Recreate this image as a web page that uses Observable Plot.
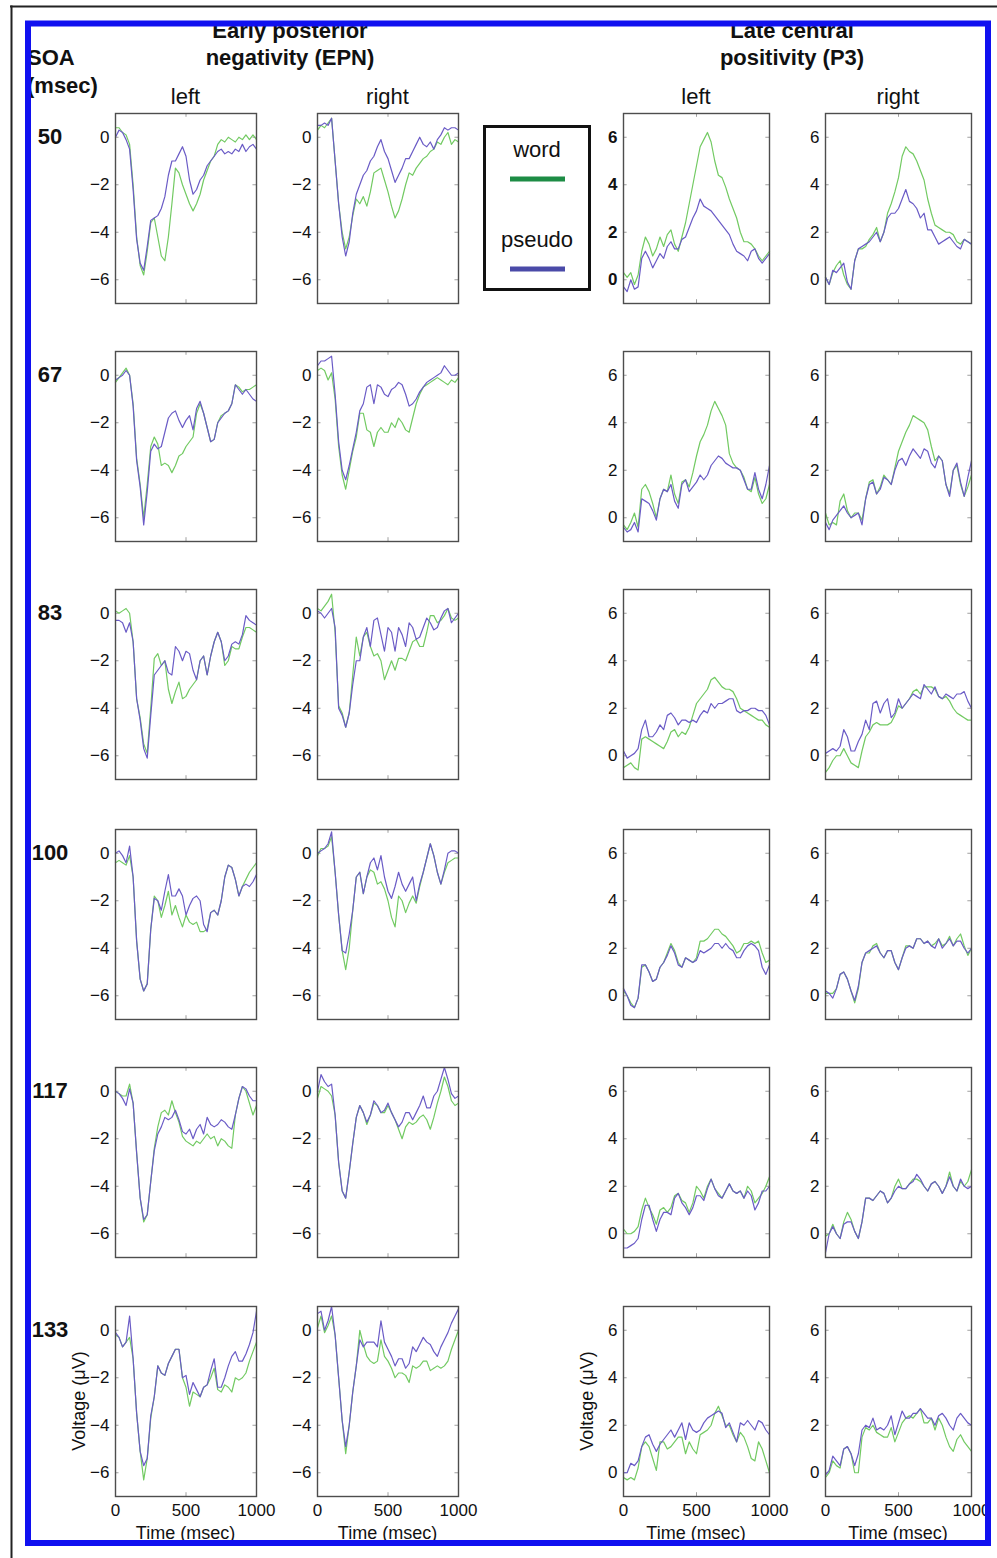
<!DOCTYPE html>
<html>
<head>
<meta charset="utf-8">
<script src="https://cdn.jsdelivr.net/npm/d3@7"></script>
<script src="https://cdn.jsdelivr.net/npm/@observablehq/plot@0.6"></script>
<style>
  html, body { margin: 0; padding: 0; background: #fff; }
  #fig { position: relative; width: 997px; height: 1558px; overflow: hidden; background: #fff; }
  .cell { position: absolute; }
  #overlay { position: absolute; left: 0; top: 0; pointer-events: none; }
</style>
</head>
<body>
<div id="fig"></div>
<script>
// ---------------- data ----------------
const times = [0,25,50,75,100,125,150,175,200,225,250,275,300,325,350,375,400,425,450,475,500,525,550,575,600,625,650,675,700,725,750,775,800,825,850,875,900,925,950,975,1000];
const soaLabels = ["50", "67", "83", "100", "117", "133"];
const componentTitles = [["Early posterior", "negativity (EPN)"], ["Late central", "positivity (P3)"]];
const hemiLabels = ["left", "right", "left", "right"];
const epnTicks = [-6, -4, -2, 0];
const p3Ticks = [0, 2, 4, 6];
const timeTicks = [0, 500, 1000];
const conditions = ["word", "pseudo"];

// SOA 50
const word_50_epnL   = [0.4,0.4,0.2,0.1,-0.3,-2.0,-4.2,-5.4,-5.8,-4.8,-3.6,-3.4,-4.2,-5.0,-5.2,-4.2,-2.8,-1.3,-1.5,-2.0,-2.4,-2.8,-3.1,-2.8,-2.4,-1.8,-1.4,-1.0,-0.8,-0.3,-0.1,-0.2,0.0,-0.1,-0.2,0.0,-0.1,0.1,-0.1,0.1,-0.1];
const pseudo_50_epnL = [0.0,0.3,0.2,-0.1,-0.5,-2.2,-4.3,-5.3,-5.6,-4.6,-3.5,-3.4,-3.3,-3.0,-2.5,-1.6,-1.0,-1.0,-0.7,-0.4,-0.8,-1.8,-2.4,-2.2,-1.8,-1.6,-1.2,-1.0,-0.8,-0.6,-0.5,-0.7,-0.6,-0.7,-0.5,-0.6,-0.3,-0.6,-0.4,-0.3,-0.5];
const word_50_epnR   = [0.3,0.5,0.4,0.6,0.8,-1.0,-2.8,-4.0,-4.7,-4.2,-3.3,-2.6,-2.8,-2.5,-2.9,-2.3,-1.5,-1.4,-1.3,-1.8,-2.3,-2.9,-3.4,-3.1,-2.6,-2.0,-1.5,-1.6,-1.3,-1.1,-0.9,-0.8,-0.6,-0.5,-0.2,-0.3,0.0,0.2,-0.3,-0.1,-0.2];
const pseudo_50_epnR = [0.5,0.5,0.6,0.5,0.8,-1.0,-2.8,-4.2,-5.0,-4.4,-3.2,-2.4,-2.0,-1.6,-1.4,-1.0,-0.8,-0.4,-0.1,-0.6,-0.9,-1.4,-1.9,-1.6,-1.3,-0.9,-0.9,-0.6,-0.3,0.0,-0.3,-0.4,-0.2,-0.5,-0.1,0.1,0.4,0.3,0.4,0.4,0.3];
const word_50_p3L    = [0.3,0.1,0.3,-0.2,0.2,1.2,1.8,1.5,1.0,1.3,1.8,1.4,1.9,2.1,1.5,1.2,1.8,2.4,3.2,4.0,4.8,5.6,5.9,6.2,5.8,5.0,4.4,4.3,3.9,3.4,3.0,2.6,2.0,1.6,1.6,1.5,1.3,1.0,0.8,1.0,1.2];
const pseudo_50_p3L  = [-0.3,-0.5,0.0,-0.4,-0.3,0.9,1.2,0.9,0.5,0.8,1.1,0.9,1.4,1.6,1.3,1.3,1.7,1.8,2.2,2.6,2.9,3.4,3.1,3.0,2.9,2.7,2.5,2.3,2.1,1.9,1.5,1.2,1.1,1.0,0.8,1.2,1.3,0.9,0.7,0.9,1.1];
const word_50_p3R    = [0.1,-0.2,0.3,0.6,0.8,0.2,-0.2,-0.4,0.8,1.3,1.3,1.4,1.7,1.9,2.2,1.6,2.0,2.8,3.2,3.7,4.3,5.2,5.6,5.4,5.3,5.0,4.6,4.2,3.4,2.8,2.3,2.2,2.1,2.0,2.0,1.9,1.6,1.5,1.7,1.6,1.5];
const pseudo_50_p3R  = [0.1,-0.2,0.4,0.3,0.5,0.7,-0.1,-0.4,0.8,1.3,1.4,1.5,1.6,1.8,2.0,1.6,2.0,2.6,2.8,2.8,3.0,3.4,3.8,3.3,3.2,3.0,2.6,2.8,2.1,2.1,1.8,1.5,1.6,1.7,1.8,1.6,1.4,1.3,1.7,1.6,1.5];
// SOA 67
const word_67_epnL   = [-0.3,-0.1,0.1,0.3,0.0,-1.2,-3.5,-4.6,-6.0,-4.6,-3.0,-2.6,-2.9,-3.8,-3.7,-3.8,-4.1,-3.8,-3.4,-3.3,-3.0,-2.8,-2.6,-1.6,-1.2,-1.6,-2.2,-2.8,-2.7,-2.0,-1.7,-1.6,-1.5,-1.2,-0.4,-0.5,-0.7,-0.6,-0.6,-0.5,-0.4];
const pseudo_67_epnL = [-0.2,-0.1,0.0,0.2,0.0,-1.3,-3.6,-4.7,-6.3,-4.9,-3.2,-2.9,-3.1,-3.0,-2.4,-1.8,-1.6,-1.5,-1.9,-2.2,-1.9,-1.7,-2.3,-1.4,-1.1,-1.6,-2.2,-2.8,-2.7,-2.0,-1.8,-1.6,-1.5,-1.2,-0.4,-0.6,-0.8,-0.6,-0.8,-1.0,-1.1];
const word_67_epnR   = [0.2,0.3,0.2,-0.2,0.1,-1.0,-3.0,-4.2,-4.8,-4.0,-3.2,-2.6,-1.6,-1.6,-2.3,-2.4,-3.0,-2.4,-2.2,-2.4,-2.4,-2.0,-2.2,-1.8,-2.0,-2.3,-2.4,-1.8,-1.2,-0.8,-0.5,-0.4,-0.3,-0.2,-0.1,-0.2,-0.3,-0.4,-0.2,-0.3,-0.1];
const pseudo_67_epnR = [0.4,0.6,0.6,0.7,0.8,-0.8,-2.8,-4.0,-4.4,-3.8,-3.1,-2.4,-1.5,-1.2,-0.5,-0.4,-1.2,-0.4,-0.5,-0.8,-0.9,-0.6,-0.5,-0.3,-0.4,-0.8,-1.3,-1.2,-1.0,-0.7,-0.5,-0.3,-0.2,-0.1,0.0,0.1,0.4,0.2,0.0,0.0,0.1];
const word_67_p3L    = [-0.3,-0.5,-0.2,0.2,-0.4,1.2,1.4,1.1,0.6,0.0,0.8,1.2,1.1,1.8,1.0,0.6,1.5,1.6,1.3,1.9,2.6,3.2,3.5,3.9,4.5,4.9,4.6,4.3,3.9,2.7,2.3,2.1,2.0,1.7,1.2,1.1,1.7,1.0,0.6,0.8,1.4];
const pseudo_67_p3L  = [-0.4,-0.6,-0.5,-0.2,-0.6,0.8,0.7,0.6,0.3,-0.1,0.8,1.2,1.1,1.4,0.7,0.4,1.4,1.6,1.1,1.3,1.5,1.8,1.6,1.8,2.2,2.4,2.6,2.5,2.3,2.2,2.1,2.1,2.0,1.6,1.2,1.2,1.9,1.2,0.8,1.4,2.2];
const word_67_p3R    = [0.2,-0.3,-0.2,-0.3,0.7,1.0,0.3,0.0,0.2,0.2,-0.1,0.8,1.5,1.6,1.0,1.3,1.8,1.6,1.4,2.1,2.8,3.2,3.6,3.9,4.3,4.2,4.1,4.0,3.7,3.0,2.4,2.6,2.4,1.4,1.0,2.0,2.2,1.4,0.9,1.3,1.8];
const pseudo_67_p3R  = [-0.2,-0.5,-0.1,0.1,0.3,0.5,0.2,0.0,0.1,0.2,-0.3,0.8,1.4,1.5,1.0,1.2,1.7,1.6,1.4,2.0,2.4,2.5,2.2,2.6,2.9,2.7,2.5,2.9,2.8,2.3,2.1,2.6,2.4,1.4,0.9,2.0,2.3,1.5,0.9,1.7,2.4];
// SOA 83
const word_83_epnL   = [0.1,0.0,0.1,0.2,0.0,-1.2,-3.6,-4.4,-5.5,-5.9,-4.0,-1.9,-1.7,-2.2,-2.0,-3.2,-3.8,-3.3,-2.9,-3.6,-3.5,-3.2,-3.0,-2.8,-2.0,-1.8,-2.6,-1.8,-1.2,-0.8,-1.2,-2.2,-2.0,-1.4,-1.5,-1.5,-1.0,-0.6,-0.6,-0.7,-0.8];
const pseudo_83_epnL = [-0.3,-0.3,-0.4,-0.8,-0.4,-1.2,-3.6,-4.5,-5.7,-6.1,-4.3,-2.6,-2.4,-2.2,-2.0,-2.5,-2.6,-1.4,-1.6,-2.0,-1.6,-1.7,-2.4,-2.8,-2.0,-1.8,-2.6,-1.8,-1.2,-0.8,-1.2,-2.0,-1.8,-1.3,-1.2,-1.3,-0.9,-0.1,-0.3,-0.4,-0.5];
const word_83_epnR   = [0.2,0.1,0.3,0.5,0.8,-0.8,-3.9,-4.2,-4.8,-4.2,-2.6,-1.0,-1.8,-1.0,-0.8,-1.4,-1.8,-1.7,-2.0,-2.8,-2.4,-2.0,-2.4,-1.9,-1.9,-2.0,-1.6,-1.2,-1.1,-1.4,-1.4,-0.8,-0.1,-0.1,-0.4,-0.3,-0.1,0.2,-0.2,-0.3,-0.2];
const pseudo_83_epnR = [0.1,0.0,-0.2,0.0,0.2,-0.6,-4.0,-4.3,-4.8,-4.2,-3.0,-2.0,-2.0,-1.0,-0.6,-1.4,-0.3,-0.2,-0.9,-1.6,-0.6,-0.8,-1.6,-0.6,-0.9,-1.4,-0.4,-0.6,-1.1,-1.0,-0.6,-0.2,-0.4,-0.7,-0.6,-0.2,0.1,0.2,-0.4,-0.2,0.0];
const word_83_p3L    = [-0.5,-0.4,-0.3,-0.5,-0.6,0.7,0.8,0.7,0.6,0.5,0.4,0.3,0.6,1.0,1.1,0.8,1.0,0.9,1.2,1.7,2.2,2.4,2.6,2.8,3.2,3.3,3.1,2.9,2.8,2.8,2.7,2.4,2.0,1.9,1.8,1.7,1.6,1.5,1.5,1.3,1.2];
const pseudo_83_p3L  = [0.2,-0.1,0.0,0.1,0.3,1.1,1.5,0.8,0.8,1.0,1.3,1.1,1.7,1.8,1.6,1.3,1.5,1.5,1.4,1.5,1.4,1.7,1.9,1.8,2.2,2.0,2.2,2.2,2.3,2.4,2.4,1.9,1.8,1.9,1.9,2.0,2.0,1.9,1.9,1.7,1.3];
const word_83_p3R    = [-0.7,-0.5,-0.2,0.0,0.0,0.3,0.0,-0.3,-0.4,-0.5,0.2,0.8,1.0,1.3,1.4,1.3,1.3,1.3,1.4,1.7,2.1,2.0,2.2,2.4,2.7,2.8,2.6,2.9,2.9,2.9,2.8,2.5,2.4,2.5,2.3,2.0,1.8,1.7,1.6,1.5,1.5];
const pseudo_83_p3R  = [0.1,0.2,0.3,0.2,0.4,1.1,0.8,0.2,0.2,0.6,0.9,1.5,1.1,2.2,2.3,1.8,2.2,2.4,1.6,1.8,2.4,2.0,2.2,2.4,2.6,2.5,2.4,3.0,2.8,2.6,2.9,2.5,2.4,2.6,2.5,2.4,2.6,2.6,2.7,2.3,2.0];
// SOA 100
const word_100_epnL   = [-0.4,-0.3,-0.4,-0.5,-0.1,-1.0,-3.7,-5.3,-5.8,-5.5,-3.2,-1.8,-2.0,-2.7,-2.2,-1.6,-2.6,-2.2,-2.7,-3.1,-2.6,-2.9,-3.0,-2.9,-3.3,-3.3,-3.2,-2.5,-2.4,-2.6,-2.0,-1.0,-0.5,-0.6,-1.1,-1.8,-1.4,-1.1,-0.8,-0.6,-0.4];
const pseudo_100_epnL = [0.0,0.1,-0.1,-0.4,0.3,-1.0,-3.7,-5.3,-5.8,-5.5,-3.2,-1.9,-2.0,-2.4,-1.6,-0.9,-1.8,-1.8,-1.5,-1.8,-2.6,-2.2,-1.9,-1.8,-2.0,-3.0,-3.3,-2.5,-2.4,-2.6,-2.0,-1.0,-0.5,-0.6,-1.1,-1.8,-1.4,-1.3,-1.4,-1.2,-0.9];
const word_100_epnR   = [-0.1,0.2,0.2,0.3,0.7,-0.8,-2.6,-4.1,-4.9,-4.0,-2.4,-1.0,-0.8,-1.7,-1.0,-0.7,-0.8,-1.3,-1.2,-1.5,-2.0,-2.7,-3.1,-1.8,-2.0,-2.5,-2.1,-1.8,-2.1,-1.4,-0.8,-0.2,0.4,-0.1,-0.8,-1.3,-0.8,-0.4,-0.3,-0.2,-0.2];
const pseudo_100_epnR = [0.0,0.1,0.2,0.4,0.9,-0.8,-2.6,-4.1,-4.2,-3.4,-2.4,-1.0,-0.8,-1.7,-1.0,-0.4,-0.2,-0.7,-0.1,-1.0,-1.6,-1.9,-1.4,-0.8,-1.3,-1.6,-1.3,-1.0,-2.0,-1.3,-0.8,-0.2,0.4,-0.1,-0.8,-1.3,-0.7,0.0,0.1,0.1,0.0];
const word_100_p3L    = [0.2,0.0,-0.3,-0.5,-0.1,1.2,1.3,1.0,0.6,0.7,1.2,1.4,1.8,2.2,1.9,1.4,1.2,1.6,1.5,1.4,1.6,2.3,2.3,2.4,2.6,2.8,2.8,2.6,2.5,2.3,2.1,1.8,1.9,2.2,2.2,2.3,2.2,2.3,1.8,1.4,1.5];
const pseudo_100_p3L  = [0.3,0.0,-0.4,-0.5,-0.1,1.3,1.3,1.0,0.6,0.7,1.2,1.4,1.7,2.1,1.8,1.3,1.2,1.6,1.5,1.4,1.5,1.9,1.8,1.9,2.0,2.2,2.2,2.0,2.2,2.0,1.9,1.6,1.6,1.9,2.1,2.2,2.1,1.9,1.2,0.9,1.3];
const word_100_p3R    = [0.1,0.1,0.1,0.3,0.9,1.0,0.7,0.2,-0.3,0.3,1.4,1.8,1.8,2.1,2.2,1.8,1.6,1.9,1.9,1.4,1.1,1.6,2.1,2.1,2.0,2.4,2.4,2.2,2.3,2.1,2.2,2.4,2.1,2.2,2.5,2.1,2.4,2.6,2.1,1.7,2.0];
const pseudo_100_p3R  = [0.2,0.1,-0.1,0.3,0.9,1.0,0.7,0.2,-0.2,0.4,1.4,1.8,1.9,2.0,2.1,1.8,1.6,1.9,1.9,1.4,1.1,1.6,2.0,2.1,2.0,2.4,2.4,2.2,2.3,2.1,2.0,2.4,2.0,2.2,2.4,2.1,2.3,2.3,2.0,1.8,2.0];
// SOA 117
const word_117_epnL   = [0.0,-0.1,-0.2,-0.2,0.3,-0.5,-2.6,-4.5,-5.5,-5.2,-3.8,-2.4,-1.5,-0.9,-0.8,-1.0,-0.4,-0.9,-1.3,-1.9,-2.1,-2.2,-2.3,-2.1,-2.2,-2.0,-1.8,-2.0,-1.9,-2.3,-2.0,-2.1,-2.3,-2.4,-1.0,-0.3,0.2,0.0,-0.5,-1.0,-0.6];
const pseudo_117_epnL = [0.0,-0.1,-0.3,-0.6,0.1,-0.5,-2.6,-4.5,-5.4,-5.2,-3.8,-2.5,-1.8,-1.5,-1.1,-1.2,-1.1,-0.8,-1.2,-1.7,-1.8,-1.6,-2.0,-1.6,-1.4,-1.8,-1.1,-1.4,-1.5,-1.4,-1.2,-1.3,-1.5,-1.6,-1.0,-0.3,0.2,0.1,-0.2,-0.4,-0.4];
const word_117_epnR   = [-0.3,0.2,0.1,0.0,-0.2,-1.0,-3.0,-4.2,-4.5,-3.4,-2.2,-1.1,-0.6,-0.9,-1.4,-1.0,-0.5,-0.6,-0.9,-0.9,-0.6,-0.9,-1.2,-1.6,-2.0,-1.5,-1.3,-1.4,-1.3,-1.1,-1.0,-1.2,-1.6,-1.1,-0.5,0.0,0.6,0.2,-0.4,-0.6,-0.5];
const pseudo_117_epnR = [0.0,0.7,0.4,0.2,0.3,-1.0,-3.0,-4.2,-4.5,-3.4,-2.2,-1.1,-0.6,-0.9,-1.3,-1.0,-0.4,-0.6,-0.9,-0.8,-0.5,-0.9,-1.2,-1.5,-1.3,-0.9,-0.9,-1.2,-0.9,-0.6,-0.2,-0.7,-0.7,-0.2,0.0,0.5,1.0,0.5,-0.1,-0.3,-0.2];
const word_117_p3L    = [0.2,0.0,0.0,0.1,0.3,1.0,1.5,1.1,0.8,0.4,1.0,1.1,0.9,1.1,1.6,1.7,1.4,1.3,0.9,1.3,2.0,1.8,1.5,2.0,2.3,1.9,1.7,1.5,1.8,2.1,1.8,1.7,1.8,1.5,2.0,1.8,1.3,1.5,1.7,2.0,2.4];
const pseudo_117_p3L  = [-0.6,-0.6,-0.5,-0.4,-0.2,0.6,1.2,1.2,0.6,0.1,0.6,0.9,0.9,0.8,1.5,1.7,1.3,1.1,0.8,1.1,1.6,1.6,1.4,1.9,2.3,1.9,1.6,1.5,1.8,2.1,1.8,1.7,1.8,1.5,1.8,1.6,1.0,1.3,1.8,1.8,2.0];
const word_117_p3R    = [-0.1,0.0,0.4,0.0,-0.2,0.5,0.9,0.6,0.1,-0.2,0.5,1.5,1.5,1.4,1.6,1.8,1.7,1.3,1.5,2.0,2.3,1.9,1.9,2.1,2.3,2.3,2.2,2.0,1.8,2.1,2.2,2.0,1.7,2.0,2.6,2.0,1.8,2.2,2.0,2.2,2.7];
const pseudo_117_p3R  = [-0.8,0.0,0.3,0.0,-0.2,0.4,0.5,0.5,0.1,-0.2,0.5,1.5,1.5,1.4,1.6,1.8,1.7,1.3,1.5,1.8,2.0,1.9,1.9,2.1,2.2,2.5,2.3,2.0,1.8,2.1,2.2,2.0,1.7,2.0,2.4,2.0,1.8,2.3,2.0,1.9,2.0];
// SOA 133
const word_133_epnL   = [-0.2,-0.3,-0.7,-0.5,-0.3,-1.2,-3.5,-5.1,-6.3,-5.4,-3.7,-2.8,-1.5,-1.8,-1.9,-1.4,-1.1,-0.8,-0.8,-2.0,-2.4,-3.2,-2.6,-2.7,-2.8,-2.4,-2.3,-2.0,-1.6,-2.5,-2.6,-2.3,-2.4,-2.6,-2.0,-2.1,-2.0,-1.8,-1.3,-0.9,-0.5];
const pseudo_133_epnL = [-0.1,-0.3,-0.7,-0.5,0.6,-1.2,-3.5,-5.1,-5.7,-5.4,-3.6,-2.8,-1.5,-1.8,-1.9,-1.4,-1.1,-0.8,-0.8,-2.0,-1.9,-2.7,-2.2,-2.5,-2.8,-2.4,-2.3,-1.7,-1.2,-2.4,-2.4,-2.0,-1.5,-1.1,-0.9,-1.3,-1.3,-1.0,-0.6,-0.1,0.8];
const word_133_epnR   = [0.1,0.6,-0.1,0.2,0.6,-0.2,-2.0,-3.8,-5.2,-4.0,-2.6,-1.5,0.0,-0.6,-1.1,-1.3,-1.4,-1.3,-0.4,-1.1,-1.3,-1.6,-2.0,-1.8,-1.8,-1.9,-2.2,-1.5,-1.6,-1.5,-1.3,-1.3,-1.7,-1.6,-1.5,-1.6,-1.5,-1.3,-0.8,-0.4,0.0];
const pseudo_133_epnR = [0.7,0.8,0.0,0.4,1.0,-0.2,-2.0,-3.8,-4.9,-4.0,-2.6,-1.5,-0.4,-0.7,-0.5,-0.5,-0.5,-0.7,0.4,-0.5,-0.8,-1.1,-1.5,-1.2,-1.2,-1.6,-1.4,-0.7,-0.9,-0.6,-0.3,-0.5,-0.6,-0.9,-1.1,-0.7,-0.4,-0.1,0.3,0.6,0.9];
const word_133_p3L    = [-0.2,-0.3,-0.2,-0.3,0.2,1.1,1.3,1.1,0.6,0.1,1.3,1.3,1.0,1.1,1.3,1.5,1.5,0.8,1.3,1.0,0.8,1.6,1.7,1.8,2.0,2.5,2.8,2.4,2.0,2.0,1.6,1.3,1.7,1.5,1.1,0.6,0.5,1.3,1.0,0.5,0.0];
const pseudo_133_p3L  = [0.0,0.0,0.4,0.3,0.5,1.1,1.5,1.6,1.2,0.9,1.2,1.4,1.6,1.8,1.5,1.8,2.1,1.4,2.1,1.8,1.7,1.8,2.1,2.3,2.4,2.5,2.6,2.5,1.9,2.1,1.7,1.3,2.1,2.0,2.2,2.0,1.8,2.2,2.1,1.8,1.6];
const word_133_p3R    = [-0.2,0.0,0.5,0.3,0.2,1.0,1.1,0.8,0.0,0.0,1.5,1.9,1.8,2.0,1.7,1.6,1.5,1.5,1.9,1.3,1.7,2.1,2.3,2.4,2.3,2.5,2.7,2.1,2.1,2.3,1.8,2.3,2.0,1.5,1.1,0.9,1.4,1.6,1.3,1.1,0.9];
const pseudo_133_p3R  = [-0.1,0.1,0.7,0.5,0.3,1.0,1.1,0.8,0.3,0.8,1.8,2.0,1.9,2.3,1.8,1.9,1.8,2.0,2.4,1.6,2.1,2.6,2.3,2.3,2.5,2.5,2.7,2.5,2.3,2.3,2.0,2.4,2.5,2.3,2.0,1.8,2.3,2.5,2.3,2.1,2.0];

// panels: rows = SOA, columns = EPN left, EPN right, P3 left, P3 right
const panelSeries = [
  [[word_50_epnL, pseudo_50_epnL], [word_50_epnR, pseudo_50_epnR], [word_50_p3L, pseudo_50_p3L], [word_50_p3R, pseudo_50_p3R]],
  [[word_67_epnL, pseudo_67_epnL], [word_67_epnR, pseudo_67_epnR], [word_67_p3L, pseudo_67_p3L], [word_67_p3R, pseudo_67_p3R]],
  [[word_83_epnL, pseudo_83_epnL], [word_83_epnR, pseudo_83_epnR], [word_83_p3L, pseudo_83_p3L], [word_83_p3R, pseudo_83_p3R]],
  [[word_100_epnL, pseudo_100_epnL], [word_100_epnR, pseudo_100_epnR], [word_100_p3L, pseudo_100_p3L], [word_100_p3R, pseudo_100_p3R]],
  [[word_117_epnL, pseudo_117_epnL], [word_117_epnR, pseudo_117_epnR], [word_117_p3L, pseudo_117_p3L], [word_117_p3R, pseudo_117_p3R]],
  [[word_133_epnL, pseudo_133_epnL], [word_133_epnR, pseudo_133_epnR], [word_133_p3L, pseudo_133_p3L], [word_133_p3R, pseudo_133_p3R]]
];

// ---------------- layout / style ----------------
const FONT = '"Liberation Sans", Arial, Helvetica, sans-serif';
const GREEN = "#72ca62";
const PURPLE = "#6a5bc6";
const LEG_GREEN = "#1d8c45";
const LEG_PURPLE = "#4a4aa8";
const colLeft = [115, 317, 623, 825];
const colWidth = [141, 141, 146, 146];
const rowTop = [113, 351, 589, 829, 1067, 1306];
const panelH = 190;
const fmtY = d => d < 0 ? "\u2212" + Math.abs(d) : String(d);
const fmtX = d => String(d);

const fig = document.getElementById("fig");

function makePanel(r, c) {
  const [word, pseudo] = panelSeries[r][c];
  const isEPN = c < 2;
  const domain = isEPN ? [-7, 1] : [-1, 7];
  const yt = isEPN ? epnTicks : p3Ticks;
  const last = r === panelSeries.length - 1;
  const mL = 44, mR = 26, mT = 4, mB = last ? 32 : 4;
  const pw = colWidth[c];
  const rows = [];
  word.forEach((v, i) => rows.push({t: times[i], v, cond: conditions[0]}));
  pseudo.forEach((v, i) => rows.push({t: times[i], v, cond: conditions[1]}));
  const tk = 0.16; // inner tick length in data units (~4px)
  const chart = Plot.plot({
    width: mL + pw + mR,
    height: mT + panelH + mB,
    marginLeft: mL, marginRight: mR, marginTop: mT, marginBottom: mB,
    x: {domain: [0, 1000], axis: null},
    y: {domain, axis: null},
    color: {domain: conditions, range: [GREEN, PURPLE]},
    style: {fontFamily: FONT, background: "transparent", overflow: "visible", color: "#111"},
    marks: [
      Plot.ruleY(yt, {x1: 0, x2: 25, stroke: "#a0a0a0", strokeWidth: 1}),
      Plot.ruleY(yt, {x1: 975, x2: 1000, stroke: "#a0a0a0", strokeWidth: 1}),
      Plot.ruleX([500], {y1: domain[0], y2: domain[0] + tk, stroke: "#a0a0a0", strokeWidth: 1}),
      Plot.ruleX([500], {y1: domain[1] - tk, y2: domain[1], stroke: "#a0a0a0", strokeWidth: 1}),
      Plot.lineY(rows, {x: "t", y: "v", z: "cond", stroke: "cond", strokeWidth: 1.2}),
      Plot.frame({stroke: "#4d4d4d", strokeWidth: 1.4}),
      Plot.axisY(yt, {anchor: "left", tickSize: 0, tickPadding: 6, fontSize: 17,
        fontWeight: (r === 0 && c === 2) ? "bold" : "normal", tickFormat: fmtY, label: null}),
      last ? Plot.axisX(timeTicks, {anchor: "bottom", tickSize: 0, tickPadding: 7, fontSize: 17, tickFormat: fmtX, label: null}) : null
    ]
  });
  const cell = document.createElement("div");
  cell.className = "cell";
  cell.style.left = (colLeft[c] - mL) + "px";
  cell.style.top = (rowTop[r] - mT) + "px";
  cell.style.width = (mL + pw + mR) + "px";
  cell.appendChild(chart);
  fig.appendChild(cell);
}

for (let r = 0; r < panelSeries.length; r++)
  for (let c = 0; c < 4; c++) makePanel(r, c);

// ---------------- overlay: titles, labels, legend, frame ----------------
const svg = d3.select(fig).append("svg")
  .attr("id", "overlay").attr("width", 997).attr("height", 1558)
  .style("font-family", FONT);

function txt(x, y, s, {size = 22, weight = "normal", anchor = "middle", rotate = null} = {}) {
  const t = svg.append("text").attr("x", x).attr("y", y).text(s)
    .attr("font-size", size).attr("font-weight", weight)
    .attr("text-anchor", anchor).attr("fill", "#111");
  if (rotate !== null) t.attr("transform", `rotate(${rotate},${x},${y})`);
  return t;
}

// component titles
txt(290, 38, componentTitles[0][0], {weight: "bold"});
txt(290, 65, componentTitles[0][1], {weight: "bold"});
txt(792, 38, componentTitles[1][0], {weight: "bold"});
txt(792, 65, componentTitles[1][1], {weight: "bold"});
// SOA header
txt(27, 65, "SOA", {weight: "bold", anchor: "start"});
txt(27, 93, "(msec)", {weight: "bold", anchor: "start"});
// hemisphere labels
hemiLabels.forEach((s, c) => txt(colLeft[c] + colWidth[c] / 2, 104, s));
// SOA values
soaLabels.forEach((s, r) => txt(50, rowTop[r] + 31, s, {weight: "bold"}));
// axis titles (bottom row)
const lastTop = rowTop[rowTop.length - 1];
[0, 2].forEach(c => txt(colLeft[c] - 36, lastTop + panelH / 2, "Voltage (\u03BCV)", {size: 18, rotate: -90, anchor: "middle"}).attr("dy", "0.35em"));
[0, 1, 2, 3].forEach(c => txt(colLeft[c] + colWidth[c] / 2, 1539, "Time (msec)", {size: 18}));

// legend
svg.append("rect").attr("x", 484.5).attr("y", 126.5).attr("width", 105).attr("height", 163)
  .attr("fill", "#fff").attr("stroke", "#111").attr("stroke-width", 3);
txt(537, 157, conditions[0]);
svg.append("line").attr("x1", 510).attr("x2", 565).attr("y1", 179).attr("y2", 179)
  .attr("stroke", LEG_GREEN).attr("stroke-width", 5);
txt(537, 247, conditions[1]);
svg.append("line").attr("x1", 510).attr("x2", 565).attr("y1", 269).attr("y2", 269)
  .attr("stroke", LEG_PURPLE).attr("stroke-width", 5);

// blue frame and outer black lines
svg.append("rect").attr("x", 28).attr("y", 23.5).attr("width", 960).attr("height", 1519.5)
  .attr("fill", "none").attr("stroke", "#1010f0").attr("stroke-width", 6);
svg.append("line").attr("x1", 10).attr("x2", 997).attr("y1", 6.5).attr("y2", 6.5)
  .attr("stroke", "#222").attr("stroke-width", 2);
svg.append("line").attr("x1", 11.5).attr("x2", 11.5).attr("y1", 5.5).attr("y2", 1558)
  .attr("stroke", "#222").attr("stroke-width", 2);
</script>
</body>
</html>
